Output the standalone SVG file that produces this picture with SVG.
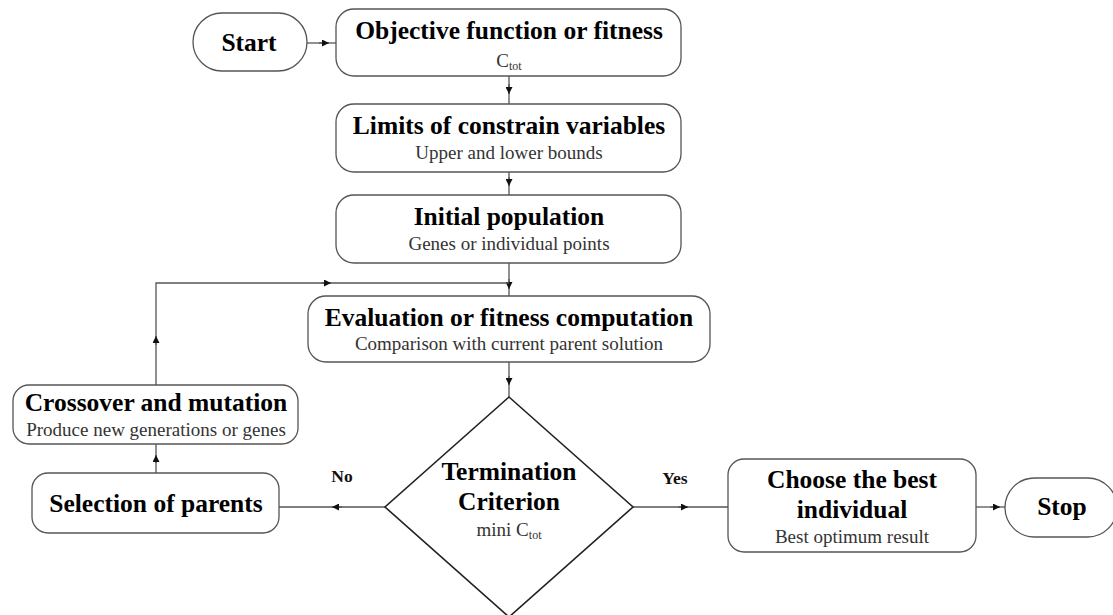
<svg xmlns="http://www.w3.org/2000/svg" width="1113" height="615" viewBox="0 0 1113 615">
<defs>
<style>
.box{fill:#fff;stroke:#555;stroke-width:1.3}
.dia{fill:#fff;stroke:#222;stroke-width:1.6}
.t{font-family:"Liberation Serif","Times New Roman",serif;font-weight:bold;font-size:25.5px;fill:#000;text-anchor:middle}
.s{font-family:"Liberation Serif","Times New Roman",serif;font-size:19px;fill:#333;text-anchor:middle}
.sub{font-size:12px;fill:#333}
.c{fill:none;stroke:#555;stroke-width:1.3}
.lbl{font-family:"Liberation Serif","Times New Roman",serif;font-weight:bold;font-size:17.5px;fill:#111;text-anchor:middle}
</style>
<marker id="ae" viewBox="0 0 10 10" refX="10" refY="5" markerWidth="7" markerHeight="7" orient="auto" markerUnits="userSpaceOnUse">
<path d="M0,0 L10,5 L0,10 z" fill="#111"/>
</marker>
</defs>
<rect width="1113" height="615" fill="#fff"/>

<g id="connectors">
<line class="c" x1="307" y1="43" x2="336" y2="43"/>
<path d="M319,43 L329,43" class="c" marker-end="url(#ae)"/>
<line class="c" x1="509" y1="76" x2="509" y2="104"/>
<path d="M509,84 L509,94" class="c" marker-end="url(#ae)"/>
<line class="c" x1="509" y1="172" x2="509" y2="195"/>
<path d="M509,177 L509,186" class="c" marker-end="url(#ae)"/>
<line class="c" x1="509" y1="263" x2="509" y2="296"/>
<path d="M509,279 L509,289" class="c" marker-end="url(#ae)"/>
<line class="c" x1="509" y1="362" x2="509" y2="397"/>
<path d="M509,376 L509,385" class="c" marker-end="url(#ae)"/>
<polyline class="c" points="156,385 156,283 509,283"/>
<path d="M321,283 L331,283" class="c" marker-end="url(#ae)"/>
<path d="M156,345 L156,336" class="c" marker-end="url(#ae)"/>
<line class="c" x1="156" y1="473" x2="156" y2="444"/>
<path d="M156,463 L156,455" class="c" marker-end="url(#ae)"/>
<line class="c" x1="385" y1="507" x2="279" y2="507"/>
<path d="M342,507 L332,507" class="c" marker-end="url(#ae)"/>
<line class="c" x1="633" y1="507" x2="728" y2="507"/>
<path d="M678,507 L688,507" class="c" marker-end="url(#ae)"/>
<line class="c" x1="976" y1="507" x2="1005" y2="507"/>
<path d="M990,507 L1000,507" class="c" marker-end="url(#ae)"/>
<text class="lbl" x="342" y="482">No</text>
<text class="lbl" x="675" y="484">Yes</text>
</g>

<g id="start">
<rect class="box" x="193" y="13" width="114" height="58" rx="29" ry="29"/>
<text class="t" x="249" y="51">Start</text>
</g>

<g id="objective">
<rect class="box" x="336" y="9" width="345" height="67" rx="18" ry="18"/>
<text class="t" x="509" y="39">Objective function or fitness</text>
<text class="s" x="509" y="67">C<tspan class="sub" dy="3">tot</tspan></text>
</g>

<g id="limits">
<rect class="box" x="336" y="104" width="345" height="68" rx="18" ry="18"/>
<text class="t" x="509" y="134">Limits of constrain variables</text>
<text class="s" x="509" y="159">Upper and lower bounds</text>
</g>

<g id="initial">
<rect class="box" x="336" y="195" width="345" height="68" rx="18" ry="18"/>
<text class="t" x="509" y="225">Initial population</text>
<text class="s" x="509" y="250">Genes or individual points</text>
</g>

<g id="evaluation">
<rect class="box" x="308" y="296" width="402" height="66" rx="18" ry="18"/>
<text class="t" x="509" y="326">Evaluation or fitness computation</text>
<text class="s" x="509" y="350">Comparison with current parent solution</text>
</g>

<g id="crossover">
<rect class="box" x="13" y="385" width="285" height="59" rx="16" ry="16"/>
<text class="t" x="156" y="411">Crossover and mutation</text>
<text class="s" x="156" y="436">Produce new generations or genes</text>
</g>

<g id="selection">
<rect class="box" x="32" y="473" width="247" height="60" rx="16" ry="16"/>
<text class="t" x="156" y="512">Selection of parents</text>
</g>

<g id="termination">
<polygon class="dia" points="509,397 633,507 509,617 385,507"/>
<text class="t" x="509" y="480">Termination</text>
<text class="t" x="509" y="510">Criterion</text>
<text class="s" x="509" y="536">mini C<tspan class="sub" dy="3">tot</tspan></text>
</g>

<g id="choose">
<rect class="box" x="728" y="459" width="248" height="93" rx="16" ry="16"/>
<text class="t" x="852" y="488">Choose the best</text>
<text class="t" x="852" y="518">individual</text>
<text class="s" x="852" y="543">Best optimum result</text>
</g>

<g id="stop">
<rect class="box" x="1005" y="478" width="112" height="59" rx="29.5" ry="29.5"/>
<text class="t" x="1062" y="515">Stop</text>
</g>
</svg>
